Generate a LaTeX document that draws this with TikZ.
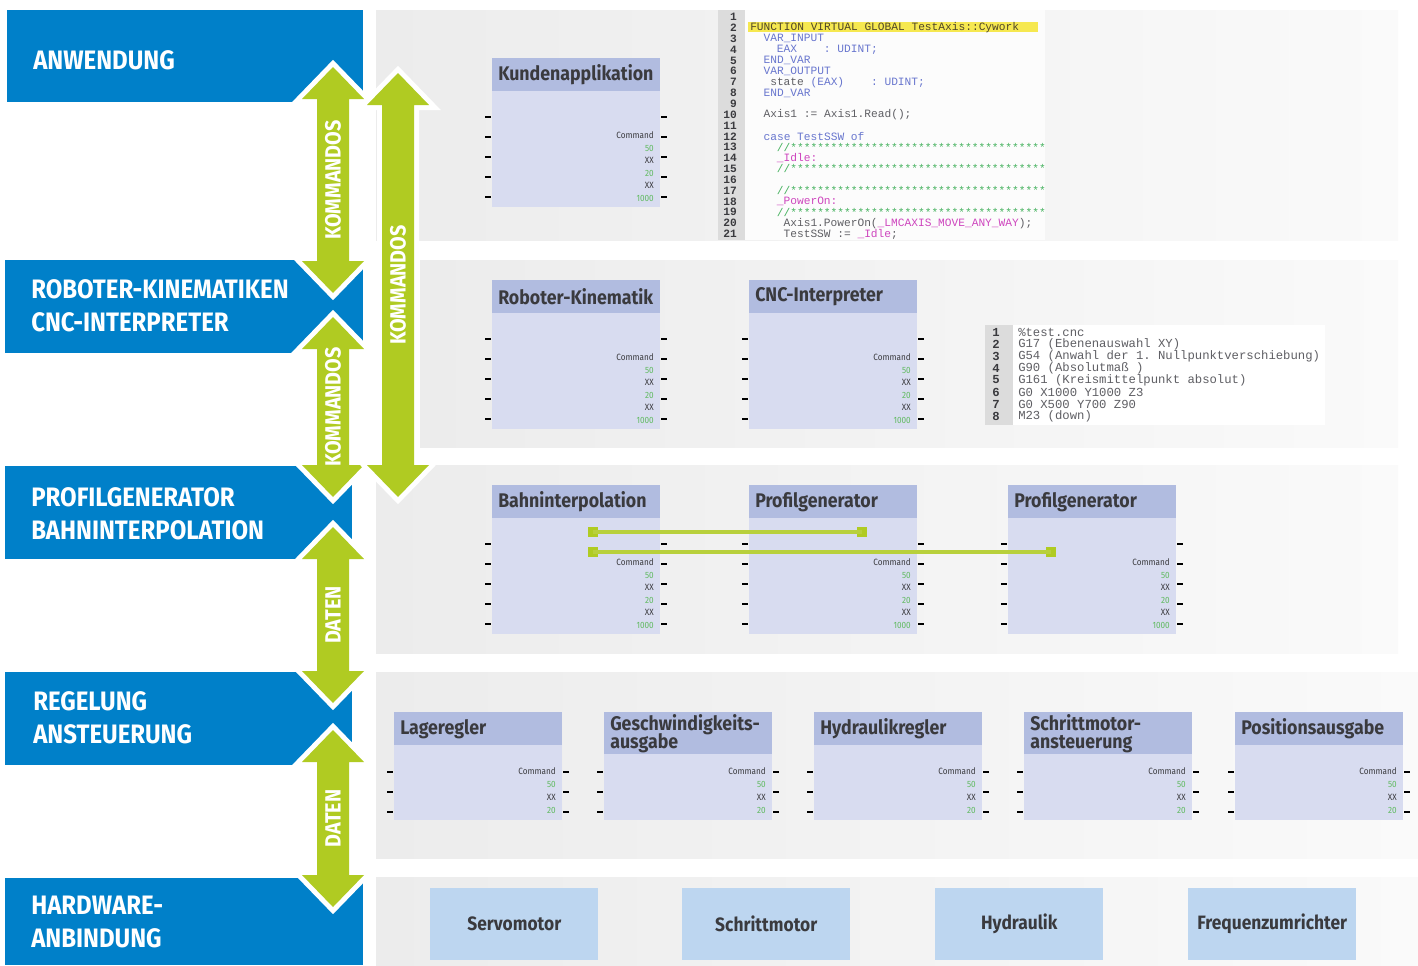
\documentclass[tikz,border=0pt]{standalone}
\usepackage{fontspec}
\setmainfont{Fira Sans}
\newfontfamily\hf[FakeStretch=0.9]{Fira Sans}
\setmonofont{Liberation Mono}
\definecolor{kblue}{RGB}{0,128,201}
\definecolor{kgreen}{RGB}{176,203,34}
\definecolor{kgreenl}{RGB}{184,208,60}
\definecolor{pl}{RGB}{236,236,236}
\definecolor{pr}{RGB}{250,250,250}
\definecolor{hdr}{RGB}{177,188,224}
\definecolor{bdy}{RGB}{216,220,240}
\definecolor{hw}{RGB}{189,214,240}
\definecolor{ttlc}{RGB}{58,58,62}
\definecolor{lgreen}{RGB}{96,186,96}
\definecolor{ckw}{RGB}{104,118,206}
\definecolor{ccom}{RGB}{70,178,95}
\definecolor{cmag}{RGB}{206,70,190}
\definecolor{ctxt}{RGB}{95,95,100}
\definecolor{cfn}{RGB}{80,70,40}
\definecolor{hl}{RGB}{246,232,80}
\definecolor{gut}{RGB}{220,220,220}
\tikzset{
 layerbox/.style={fill=kblue, inner sep=0, anchor=north west},
 layertxt/.style={text=white, font=\hf\bfseries\fontsize{20}{24.75}\selectfont, align=left, anchor=west, inner sep=0},
 hdrbox/.style={fill=hdr, inner sep=0, anchor=north west, minimum width=168*0.75pt},
 bodybox/.style={fill=bdy, inner sep=0, anchor=north west, minimum width=168*0.75pt},
 ttl/.style={text=ttlc, font=\hf\bfseries\fontsize{14.8}{12.6}\selectfont, align=left, anchor=west, inner sep=0},
 lbl/.style={text=ttlc, font=\hf\fontsize{6.8}{7}\selectfont, anchor=east, inner sep=0},
 glbl/.style={lbl, text=lgreen},
 pinl/.style={line width=1.5pt, black},
 hwbox/.style={fill=hw, minimum width=168*0.75pt, minimum height=72*0.75pt, anchor=north west, inner sep=0, text=ttlc, font=\hf\bfseries\fontsize{14.5}{14.5}\selectfont},
 arrowlbl/.style={rotate=90, text=white, font=\hf\bfseries\fontsize{16.5}{16.5}\selectfont, inner sep=0},
 sq/.style={fill=kgreen, minimum size=10*0.75pt, inner sep=0},
 conn/.style={kgreenl, line width=2.3pt},
 code/.style={font=\ttfamily\fontsize{8.4}{8.4}\selectfont, inner sep=0, anchor=west, text=ctxt},
 lnum/.style={font=\ttfamily\bfseries\fontsize{8.4}{8.4}\selectfont, inner sep=0, anchor=east, text=ttlc},
 cnccode/.style={font=\ttfamily\fontsize{9.2}{9.2}\selectfont, inner sep=0, anchor=west, text=ctxt},
 cncnum/.style={font=\ttfamily\bfseries\fontsize{9.2}{9.2}\selectfont, inner sep=0, anchor=east, text=ttlc},
}
\newcommand\dblarrow[5]{%
 \path[fill=kgreen, preaction={draw=white, line width=7.5pt, line join=miter, miter limit=10}]
   (#2,#3) -- ({#2+31},{#3+32}) -- ({#2+16},{#3+32}) -- ({#2+16},{#4-32}) -- ({#2+31},{#4-32})
   -- (#2,#4) -- ({#2-31},{#4-32}) -- ({#2-16},{#4-32}) -- ({#2-16},{#3+32}) -- ({#2-31},{#3+32}) -- cycle;
 \node[arrowlbl] (#1) at (#2,{(#3+#4)/2}) {#5};
}
\newcommand\blockA[4]{%
 \node[hdrbox, minimum height=33*0.75pt] (#1) at (#2,#3) {};
 \node[ttl] (#1t) at ([xshift=6*0.75pt]#1.west) {#4};
 \node[bodybox, minimum height=116*0.75pt] (#1b) at (#2,{#3+33}) {};
 \foreach \o in {59,79,99,119,139}{
   \draw[pinl] ({#2-7},{#3+\o}) -- ({#2-1},{#3+\o});
   \draw[pinl] ({#2+169},{#3+\o}) -- ({#2+175},{#3+\o});
 }
 \node[lbl] (#1c) at ({#2+162},{#3+77}) {Command};
 \node[glbl] (#1v1) at ({#2+162},{#3+90}) {50};
 \node[lbl] (#1v2) at ({#2+162},{#3+102}) {XX};
 \node[glbl] (#1v3) at ({#2+162},{#3+115}) {20};
 \node[lbl] (#1v4) at ({#2+162},{#3+127}) {XX};
 \node[glbl] (#1v5) at ({#2+162},{#3+140}) {1000};
}
\newcommand\blockB[4]{%
 \node[hdrbox, minimum height=#3*0.75pt] (#1) at (#2,712) {};
 \node[ttl] (#1t) at ([xshift=6*0.75pt]#1.west) {#4};
 \node[bodybox, minimum height={(108-#3)*0.75pt}] (#1b) at (#2,{712+#3}) {};
 \foreach \o in {772,792,812}{
   \draw[pinl] ({#2-7},\o) -- ({#2-1},\o);
   \draw[pinl] ({#2+169},\o) -- ({#2+175},\o);
 }
 \node[lbl] (#1c) at ({#2+162},771) {Command};
 \node[glbl] (#1v1) at ({#2+162},784) {50};
 \node[lbl] (#1v2) at ({#2+162},797) {XX};
 \node[glbl] (#1v3) at ({#2+162},810) {20};
}
\newcommand\cl[3]{\node[code] (code#1) at ({750+6.67*#2},{17+10.85*(#1-1)}) {#3};}
\newcommand\cn[2]{\node[cnccode] (cnc#1) at (1018,{332+12*(#1-1)}) {#2};}
\newcommand\stars{//**************************************}
\begin{document}
\begin{tikzpicture}[x=0.75pt,y=-0.75pt]
\useasboundingbox (0,0) rectangle (1418,965);
\fill[white] (0,0) rectangle (1418,965);
% panels
\shade[left color=pl, right color=pr] (376,10) rectangle (1398,240);
\shade[left color=pl, right color=pr] (420,260) rectangle (1398,447);
\shade[left color=pl, right color=pr] (376,465) rectangle (1398,653);
\shade[left color=pl, right color=pr] (376,672) rectangle (1418,858);
\shade[left color=pl, right color=pr] (376,877) rectangle (1418,965);
% code listing 1
\fill[gut] (718,10) rectangle (745,240);
\fill[white!98!gray] (745,10) rectangle (1045,240);
\fill[hl] (748,22) rectangle (1038,32);
\foreach \n in {1,...,21}{\node[lnum] (ln\n) at (737,{17+10.85*(\n-1)}) {\n};}
\cl{2}{0}{\textcolor{cfn}{FUNCTION VIRTUAL GLOBAL TestAxis::Cywork}}
\cl{3}{2}{\textcolor{ckw}{VAR\_INPUT}}
\cl{4}{4}{\textcolor{ckw}{EAX~~~~:~UDINT;}}
\cl{5}{2}{\textcolor{ckw}{END\_VAR}}
\cl{6}{2}{\textcolor{ckw}{VAR\_OUTPUT}}
\cl{7}{3}{state~\textcolor{ckw}{(EAX)~~~~:~UDINT;}}
\cl{8}{2}{\textcolor{ckw}{END\_VAR}}
\cl{10}{2}{Axis1~:=~Axis1.Read();}
\cl{12}{2}{\textcolor{ckw}{case~TestSSW~of}}
\cl{13}{4}{\textcolor{ccom}{\stars}}
\cl{14}{4}{\textcolor{cmag}{\_Idle:}}
\cl{15}{4}{\textcolor{ccom}{\stars}}
\cl{17}{4}{\textcolor{ccom}{\stars}}
\cl{18}{4}{\textcolor{cmag}{\_PowerOn:}}
\cl{19}{4}{\textcolor{ccom}{\stars}}
\cl{20}{5}{Axis1.PowerOn(\textcolor{cmag}{\_LMCAXIS\_MOVE\_ANY\_WAY});}
\cl{21}{5}{TestSSW~:=~\textcolor{cmag}{\_Idle};}
% cnc listing
\fill[gut] (985,325) rectangle (1013,425);
\fill[white] (1013,325) rectangle (1325,425);
\foreach \n in {1,...,8}{\node[cncnum] (cn\n) at (1000,{332+12*(\n-1)}) {\n};}
\cn{1}{\%test.cnc}
\cn{2}{G17 (Ebenenauswahl XY)}
\cn{3}{G54 (Anwahl der 1. Nullpunktverschiebung)}
\cn{4}{G90 (Absolutmaß )}
\cn{5}{G161 (Kreismittelpunkt absolut)}
\cn{6}{G0 X1000 Y1000 Z3}
\cn{7}{G0 X500 Y700 Z90}
\cn{8}{M23 (down)}
% layer boxes
\node[layerbox, minimum width=356*0.75pt, minimum height=92*0.75pt] (L1) at (7,10) {};
\node[layerbox, minimum width=358*0.75pt, minimum height=93*0.75pt] (L2) at (5,260) {};
\node[layerbox, minimum width=347*0.75pt, minimum height=93*0.75pt] (L3) at (5,466) {};
\node[layerbox, minimum width=347*0.75pt, minimum height=93*0.75pt] (L4) at (5,672) {};
\node[layerbox, minimum width=358*0.75pt, minimum height=87*0.75pt] (L5) at (5,878) {};
\node[layertxt] (T1) at (33,60) {ANWENDUNG};
\node[layertxt] (T2) at (31,306) {ROBOTER-KINEMATIKEN\\CNC-INTERPRETER};
\node[layertxt] (T3) at (31,514) {PROFILGENERATOR\\BAHNINTERPOLATION};
\node[layertxt] (T4) at (33,718) {REGELUNG\\ANSTEUERUNG};
\node[layertxt] (T5) at (31,922) {HARDWARE-\\ANBINDUNG};
% arrows
\dblarrow{A1}{333}{67}{293}{KOMMANDOS}
\dblarrow{A2}{333}{317}{497}{KOMMANDOS}
\dblarrow{A3}{398}{73}{497}{KOMMANDOS}
\dblarrow{A4}{333}{527}{703}{DATEN}
\dblarrow{A5}{333}{730}{907}{DATEN}
% blocks
\blockA{ka}{492}{58}{Kundenapplikation}
\blockA{rk}{492}{280}{Roboter-Kinematik}
\blockA{ci}{749}{280}{CNC-Interpreter}
\blockA{bi}{492}{485}{Bahninterpolation}
\blockA{pg}{749}{485}{Profilgenerator}
\blockA{pgb}{1008}{485}{Profilgenerator}
\blockB{lr}{394}{33}{Lageregler}
\blockB{ga}{604}{42}{Geschwindigkeits-\\[-2pt]ausgabe}
\blockB{hr}{814}{33}{Hydraulikregler}
\blockB{sa}{1024}{42}{Schrittmotor-\\[0.8pt]ansteuerung}
\blockB{pa}{1235}{33}{Positionsausgabe}
% connectors
\node[sq] (s1a) at (593,532) {};
\node[sq] (s1b) at (862,532) {};
\node[sq] (s2a) at (593,552) {};
\node[sq] (s2b) at (1051,552) {};
\draw[conn] (s1a.center) -- (s1b.center);
\draw[conn] (s2a.center) -- (s2b.center);
% hardware
\node[hwbox] (hw1) at (430,888) {Servomotor};
\node[hwbox] (hw2) at (682,888) {Schrittmotor};
\node[hwbox] (hw3) at (935,888) {Hydraulik};
\node[hwbox] (hw4) at (1188,888) {Frequenzumrichter};
\end{tikzpicture}
\end{document}
